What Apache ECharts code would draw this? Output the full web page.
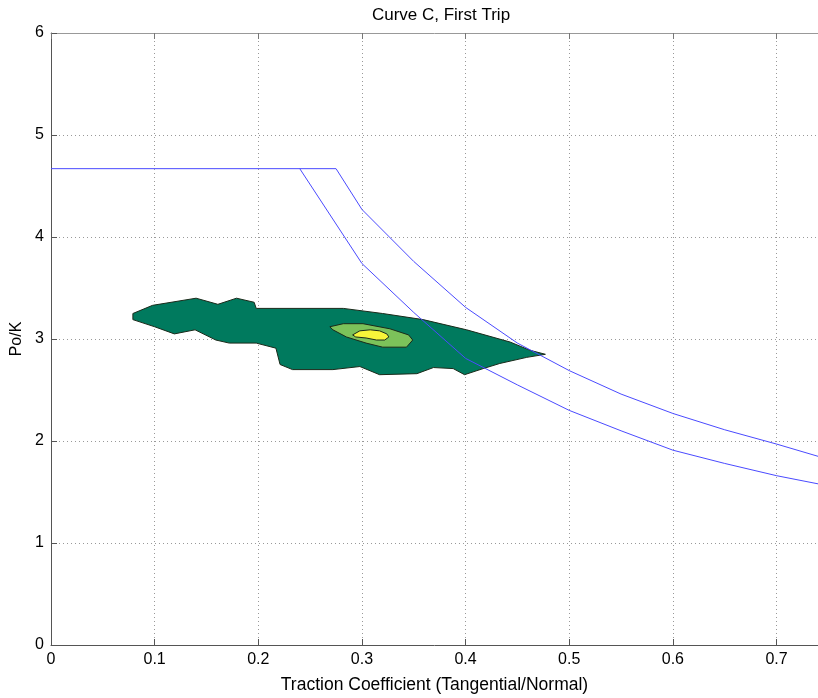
<!DOCTYPE html>
<html><head><meta charset="utf-8">
<script src="https://cdn.jsdelivr.net/npm/echarts@6/dist/echarts.min.js"></script>
<style>html,body{margin:0;padding:0;background:#fff}#c{width:818px;height:698px}</style>
</head><body><div id="c"></div>
<script>
// Blue limit curves
const upperX = [0, 0.275, 0.30, 0.35, 0.40, 0.45, 0.50, 0.55, 0.60, 0.65, 0.70, 0.74];
const upperY = [4.67, 4.67, 4.27, 3.76, 3.31, 2.96, 2.69, 2.46, 2.27, 2.11, 1.97, 1.85];
const lowerX = [0.24, 0.30, 0.35, 0.40, 0.45, 0.50, 0.55, 0.60, 0.65, 0.70, 0.74];
const lowerY = [4.67, 3.74, 3.26, 2.81, 2.55, 2.30, 2.10, 1.91, 1.78, 1.66, 1.58];
// Contour polygons
const outerX = [0.079,0.079,0.100,0.119,0.139,0.159,0.172,0.198,0.217,0.221,0.233,0.272,0.298,0.317,0.353,0.369,0.388,0.399,0.417,0.433,0.459,0.477,0.462,0.443,0.401,0.359,0.320,0.282,0.198,0.196,0.179,0.161,0.140,0.098];
const outerY = [3.25,3.19,3.12,3.05,3.09,2.99,2.96,2.96,2.91,2.75,2.70,2.70,2.73,2.65,2.66,2.72,2.71,2.65,2.71,2.76,2.82,2.85,2.89,2.97,3.09,3.19,3.25,3.30,3.30,3.36,3.40,3.34,3.40,3.33];
const midX = [0.269,0.282,0.301,0.327,0.345,0.349,0.343,0.320,0.304,0.285,0.272];
const midY = [3.12,3.15,3.15,3.10,3.04,2.99,2.92,2.92,2.96,3.02,3.09];
const innerX = [0.291,0.298,0.308,0.317,0.324,0.326,0.322,0.314,0.304,0.294];
const innerY = [3.04,3.08,3.09,3.08,3.05,3.02,2.99,2.99,3.01,3.02];
const xTicks = [0,0.1,0.2,0.3,0.4,0.5,0.6,0.7];
const yTicks = [0,1,2,3,4,5,6];

const zip = (a,b)=>a.map((v,i)=>[v,b[i]]);
function polySeries(xs, ys, color){
  return {
    type:'custom', coordinateSystem:'cartesian2d', silent:true,
    data:[[xs[0],ys[0]]],
    renderItem:function(params, api){
      const pts = xs.map((x,i)=>api.coord([x, ys[i]]));
      return {type:'polygon', shape:{points:pts}, style:{fill:color, stroke:'#1a2a1a', lineWidth:1}};
    }
  };
}
const font = 'Liberation Sans, Arial, sans-serif';
const chart = echarts.init(document.getElementById('c'));
const axisLbl = {color:'#000', fontFamily:font, fontSize:16};
chart.setOption({
  animation:false,
  title:{text:'Curve C, First Trip', left:436, top:2, textAlign:'center',
    textStyle:{fontFamily:font, fontSize:17, fontWeight:'normal', color:'#000'}},
  grid:{left:51, right:0, top:33, bottom:53, containLabel:false, outerBoundsMode:'none'},
  xAxis:[{
    type:'value', min:0, max:0.74, interval:0.1, position:'bottom',
    name:'Traction Coefficient (Tangential/Normal)', nameLocation:'middle', nameGap:31,
    nameTextStyle:{fontFamily:font, fontSize:17.5, color:'#000'},
    axisLine:{show:true, lineStyle:{color:'#555', width:1}},
    axisTick:{show:true, inside:true, length:6, lineStyle:{color:'#555'}},
    axisLabel:Object.assign({margin:7, showMaxLabel:false, formatter:v=>xTicks.some(t=>Math.abs(t-v)<1e-6)?String(+v.toFixed(2)):''}, axisLbl),
    splitLine:{show:true, lineStyle:{color:'#999', type:[1,3], width:1}}
  },{
    type:'value', min:0, max:0.74, interval:0.1, position:'top',
    axisLine:{show:true, lineStyle:{color:'#999', width:1}},
    axisTick:{show:true, inside:true, length:6, lineStyle:{color:'#777'}},
    axisLabel:{show:false}, splitLine:{show:false}
  }],
  yAxis:{
    type:'value', min:0, max:6, interval:1,
    name:'Po/K', nameLocation:'middle', nameGap:26, nameRotate:90,
    nameTextStyle:{fontFamily:font, fontSize:16, color:'#000'},
    axisLine:{show:true, lineStyle:{color:'#555', width:1}},
    axisTick:{show:true, inside:true, length:6, lineStyle:{color:'#555'}},
    axisLabel:Object.assign({margin:7}, axisLbl),
    splitLine:{show:true, lineStyle:{color:'#999', type:[1,3], width:1}}
  },
  series:[
    polySeries(outerX, outerY, '#007a5e'),
    polySeries(midX, midY, '#7cc25a'),
    polySeries(innerX, innerY, '#f7f53a'),
    {type:'line', data:zip(upperX, upperY), showSymbol:false, symbol:'none',
      lineStyle:{color:'#4a4aff', width:1}, z:5},
    {type:'line', data:zip(lowerX, lowerY), showSymbol:false, symbol:'none',
      lineStyle:{color:'#4a4aff', width:1}, z:5}
  ]
});
</script></body></html>
